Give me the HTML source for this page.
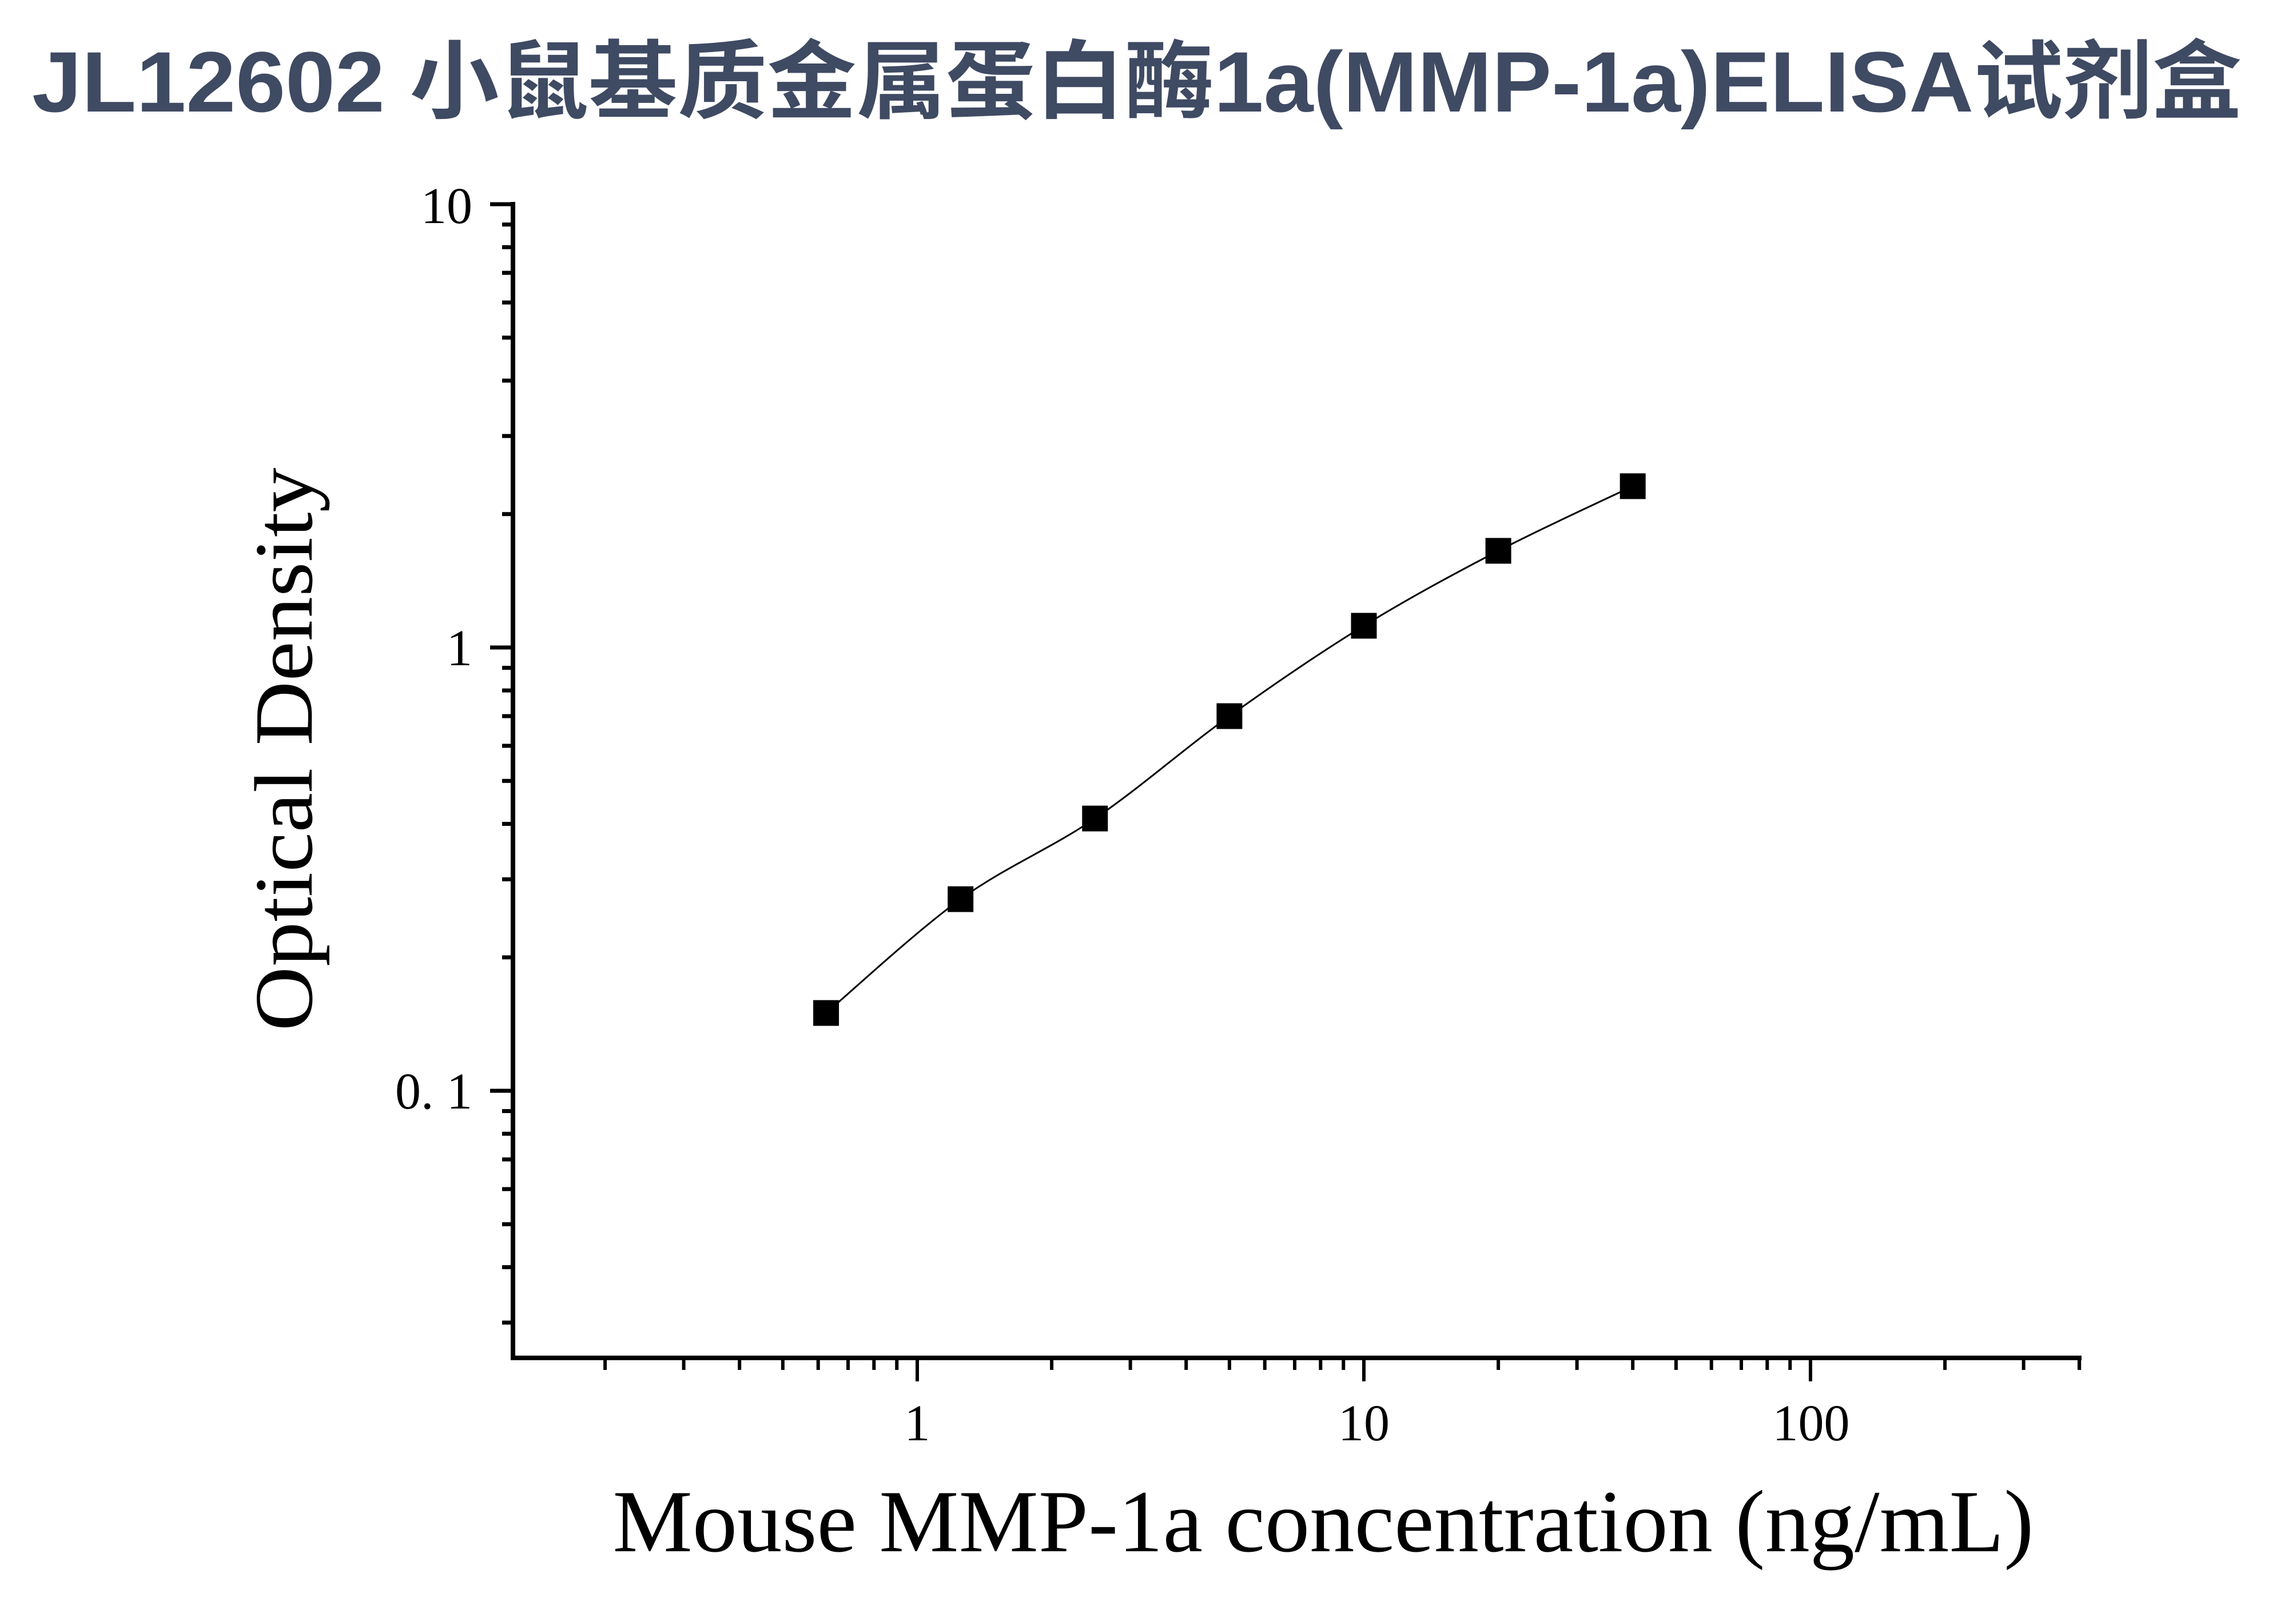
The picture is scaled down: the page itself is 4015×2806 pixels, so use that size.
<!DOCTYPE html>
<html><head><meta charset="utf-8"><style>
html,body{margin:0;padding:0;background:#fff;}
svg{display:block;}
</style></head><body>
<svg id="s" xmlns="http://www.w3.org/2000/svg" width="4015" height="2806" viewBox="0 0 4015 2806">
<rect width="4015" height="2806" fill="#fff"/>
<text x="1988" y="195" text-anchor="middle" textLength="3864" lengthAdjust="spacingAndGlyphs" font-family="'Liberation Sans','Noto Sans CJK SC',sans-serif" font-weight="bold" font-size="150" fill="#3f4a63">JL12602 小鼠基质金属蛋白酶1a(MMP-1a)ELISA试剂盒</text>
<g id="ax" stroke="#000" fill="none"></g>
<g font-family="'Liberation Serif',serif" font-size="90" fill="#000">
<text x="826" y="390" text-anchor="end">10</text>
<text x="826" y="1163" text-anchor="end">1</text>
<text x="826" y="1938" text-anchor="end">0. 1</text>
<text x="1604" y="2518" text-anchor="middle">1</text>
<text x="2385" y="2518" text-anchor="middle">10</text>
<text x="3167" y="2518" text-anchor="middle">100</text>
</g>
<text transform="translate(545,1310) rotate(-90)" text-anchor="middle" textLength="985" lengthAdjust="spacingAndGlyphs" font-family="'Liberation Serif',serif" font-size="145" fill="#000">Optical Density</text>
<text x="2314" y="2712" text-anchor="middle" textLength="2485" lengthAdjust="spacingAndGlyphs" font-family="'Liberation Serif',serif" font-size="155" fill="#000">Mouse MMP-1a concentration (ng/mL)</text>
<path id="crv" fill="none" stroke="#000" stroke-width="3"/>
<g id="mk" fill="#000"></g>
</svg>
<script>
(function(){
var g=document.getElementById('ax'),o='';
function L(x1,y1,x2,y2,w){o+='<line x1="'+x1+'" y1="'+y1+'" x2="'+x2+'" y2="'+y2+'" stroke-width="'+w+'"/>';}
L(897,353,897,2378,8);
L(893,2374,3640,2374,8);
function Y(v){return 1132-775*Math.log10(v);}
[0.1,1,10].forEach(function(v){L(857,Y(v),897,Y(v),7);});
[0.01,0.1,1].forEach(function(d){for(var m=2;m<=9;m++){var v=m*d;if(v<0.029)continue;L(878,Y(v),897,Y(v),7);}});
function X(v){return 1604+781*Math.log10(v);}
[1,10,100].forEach(function(v){L(X(v),2374,X(v),2415,6);});
[0.1,1,10,100].forEach(function(d){for(var m=2;m<=9;m++){var v=m*d;if(v<0.13||v>402)continue;L(X(v),2374,X(v),2395,6);}});
L(3636,2374,3636,2395,6);
g.innerHTML=o;
var xs=[0.625,1.25,2.5,5,10,20,40].map(X);
var ys=[1771,1572,1431,1252,1094,963,850];
var p='M'+xs[0]+','+ys[0];
for(var i=0;i<6;i++){
 var x0=xs[Math.max(i-1,0)],y0=ys[Math.max(i-1,0)],x3=xs[Math.min(i+2,6)],y3=ys[Math.min(i+2,6)];
 var c1x=xs[i]+(xs[i+1]-x0)/6,c1y=ys[i]+(ys[i+1]-y0)/6,c2x=xs[i+1]-(x3-xs[i])/6,c2y=ys[i+1]-(y3-ys[i])/6;
 p+=' C'+c1x+','+c1y+' '+c2x+','+c2y+' '+xs[i+1]+','+ys[i+1];
}
document.getElementById('crv').setAttribute('d',p);
var m='';for(var j=0;j<7;j++){m+='<rect x="'+(xs[j]-22.5)+'" y="'+(ys[j]-22.5)+'" width="45" height="45"/>';}
document.getElementById('mk').innerHTML=m;
})();
</script>
</body></html>
